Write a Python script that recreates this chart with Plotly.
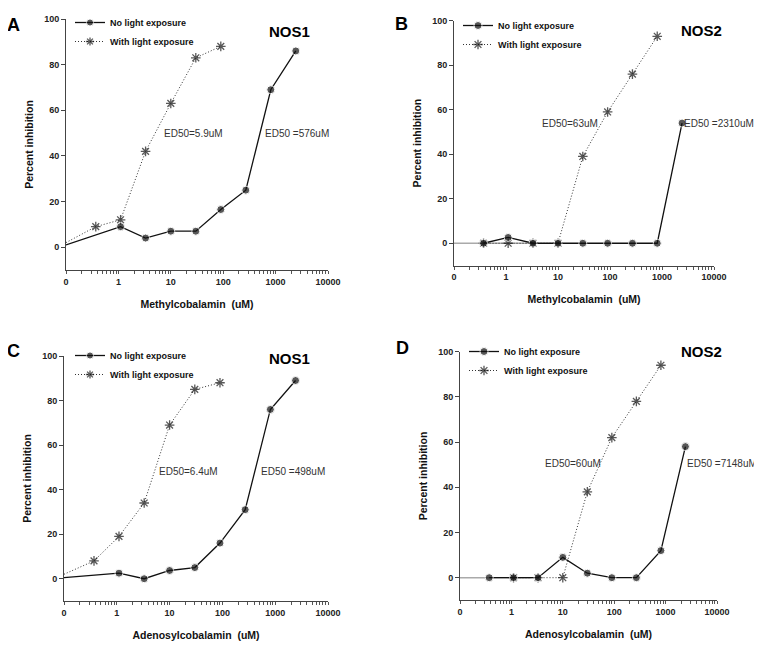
import math
import plotly.graph_objects as go

# ---------------- data ----------------
zero_pos = 0.1  # axis position used for the "0" concentration
conc = [0.37, 1.1, 3.3, 10, 30, 90, 270, 810, 2430]

# Panel A: Methylcobalamin, NOS1
a_dark_x = [zero_pos, 1.1, 3.3, 10, 30, 90, 270, 810, 2430]
a_dark_y = [1, 9, 4, 7, 7, 16.5, 25, 69, 86]
a_light_x = [zero_pos, 0.37, 1.1, 3.3, 10, 30, 90]
a_light_y = [2, 9, 12, 42, 63, 83, 88]

# Panel B: Methylcobalamin, NOS2
b_dark_x = conc
b_dark_y = [0, 2.6, 0, 0, 0, 0, 0, 0, 54]
b_light_x = [0.37, 1.1, 3.3, 10, 30, 90, 270, 810]
b_light_y = [0, 0, 0, 0, 39, 59, 76, 93]

# Panel C: Adenosylcobalamin, NOS1
c_dark_x = [zero_pos, 1.1, 3.3, 10, 30, 90, 270, 810, 2430]
c_dark_y = [0.5, 2.5, 0, 3.7, 5, 16, 31, 76, 89]
c_light_x = [zero_pos, 0.37, 1.1, 3.3, 10, 30, 90]
c_light_y = [2, 8, 19, 34, 69, 85, 88]

# Panel D: Adenosylcobalamin, NOS2
d_dark_x = conc
d_dark_y = [0, 0, 0, 9, 2, 0, 0, 12, 58]
d_light_x = [1.1, 3.3, 10, 30, 90, 270, 810]
d_light_y = [0, 0, 0, 38, 62, 78, 94]

x_major_vals = [0.1, 1, 10, 100, 1000, 10000]
x_major_text = ["0", "1", "10", "100", "1000", "10000"]
x_minor_vals = [d * m for d in [0.1, 1, 10, 100, 1000] for m in range(2, 10)]
y_tickvals = [0, 20, 40, 60, 80, 100]

panel_letters = ["A", "B", "C", "D"]
panel_titles = ["NOS1", "NOS2", "NOS1", "NOS2"]
x_titles = ["Methylcobalamin  (uM)", "Methylcobalamin  (uM)",
            "Adenosylcobalamin  (uM)", "Adenosylcobalamin  (uM)"]
ed50_light = ["ED50=5.9uM", "ED50=63uM", "ED50=6.4uM", "ED50=60uM"]
ed50_dark = ["ED50 =576uM", "ED50 =2310uM", "ED50 =498uM", "ED50 =7148uM"]
ed50_light_pos = [(6.8, 50, "left"), (63, 54, "right"), (5.8, 48, "left"), (60, 50.5, "right")]
ed50_dark_pos = [(576, 50, "left"), (2400, 54, "left"), (493, 48, "left"), (2400, 50.5, "left")]
zero_ref_end = [None, 810, None, 270]

series = [
    (a_dark_x, a_dark_y, a_light_x, a_light_y),
    (b_dark_x, b_dark_y, b_light_x, b_light_y),
    (c_dark_x, c_dark_y, c_light_x, c_light_y),
    (d_dark_x, d_dark_y, d_light_x, d_light_y),
]

# ---------------- layout geometry (page pixels -> paper) ----------------
OFF = 8  # page body margin that the figure sits inside
W, H = 762 - OFF, 651 - OFF
px_boxes = [  # (left, right, top, bottom) in page pixels
    (66, 328, 19, 270),
    (454, 714, 20.7, 265.5),
    (64, 328, 356, 601),
    (460, 717, 351.7, 600.3),
]
letter_px = [(5, 13), (393, 12), (5, 339), (394, 336)]
title_px = [(312, 21), (724, 20), (312, 348), (724, 341)]
legend_px = [(70, 8), (458, 11), (70, 341), (464, 337)]

def px_x(p):
    return (p - OFF) / W

def px_y(p):
    return 1 - (p - OFF) / H

x_tickvals = x_major_vals + x_minor_vals
x_ticktext = x_major_text + [""] * len(x_minor_vals)

FONT = "Liberation Sans, Arial, sans-serif"
fig = go.Figure()
layout = dict(
    width=W, height=H, margin=dict(l=0, r=0, t=0, b=0, autoexpand=False),
    paper_bgcolor="white", plot_bgcolor="white",
    font=dict(family=FONT, color="#222"),
    annotations=[], shapes=[],
)

def msizes(xs, size):
    return [0 if x == zero_pos else size for x in xs]

for i, (dx, dy, lx, ly) in enumerate(series):
    n = i + 1
    xa = "x" if n == 1 else f"x{n}"
    ya = "y" if n == 1 else f"y{n}"
    lg = "legend" if n == 1 else f"legend{n}"
    L, R, T, B = px_boxes[i]

    fig.add_trace(go.Scatter(
        x=lx, y=ly, xaxis=xa, yaxis=ya, mode="lines+markers",
        name="With light exposure", legend=lg, legendrank=2,
        line=dict(color="#333", width=1, dash="1px,2px"),
        marker=dict(symbol="asterisk-open", size=msizes(lx, 8),
                    line=dict(color="#111", width=1.3), color="#111"),
        cliponaxis=False,
    ))
    fig.add_trace(go.Scatter(
        x=dx, y=dy, xaxis=xa, yaxis=ya, mode="lines+markers",
        name="No light exposure", legend=lg, legendrank=1,
        line=dict(color="#111", width=1.3),
        marker=dict(symbol="circle", size=msizes(dx, 8), color="#111"),
        cliponaxis=False,
    ))

    xkey = "xaxis" if n == 1 else f"xaxis{n}"
    ykey = "yaxis" if n == 1 else f"yaxis{n}"
    layout[xkey] = dict(
        domain=[px_x(L), px_x(R)], anchor=ya, type="log", range=[-1, 4], automargin=False,
        tickvals=x_tickvals, ticktext=x_ticktext, ticks="outside", ticklen=3,
        tickcolor="#555", showline=True, linecolor="#444", linewidth=1,
        showgrid=False, zeroline=False,
        tickfont=dict(size=9, family=FONT, color="#222", weight="bold"),
        title=dict(text=x_titles[i], standoff=14,
                   font=dict(size=10.5, family=FONT, color="#111", weight="bold")),
    )
    layout[ykey] = dict(
        domain=[px_y(B), px_y(T)], anchor=xa, range=[-10, 100], automargin=False,
        tickvals=y_tickvals, ticks="outside", ticklen=4, tickcolor="#444",
        showline=True, linecolor="#444", linewidth=1, showgrid=False, zeroline=False,
        tickfont=dict(size=9, family=FONT, color="#222", weight="bold"),
        title=dict(text="Percent inhibition", standoff=8,
                   font=dict(size=10.5, family=FONT, color="#111", weight="bold")),
    )
    gx, gy = legend_px[i]
    layout[lg] = dict(
        x=px_x(gx), y=px_y(gy), xanchor="left", yanchor="top",
        bgcolor="rgba(0,0,0,0)", font=dict(size=9, family=FONT, color="#111", weight="bold"),
        tracegroupgap=0, itemwidth=30,
    )

    # panel letter and title
    lx_px, ly_px = letter_px[i]
    layout["annotations"].append(dict(
        text=panel_letters[i], xref="paper", yref="paper",
        x=px_x(lx_px), y=px_y(ly_px), xanchor="left", yanchor="top",
        showarrow=False, font=dict(size=18, family=FONT, color="#000", weight="bold")))
    tx_px, ty_px = title_px[i]
    layout["annotations"].append(dict(
        text=panel_titles[i], xref="paper", yref="paper",
        x=px_x(tx_px), y=px_y(ty_px), xanchor="right", yanchor="top",
        showarrow=False, font=dict(size=15, family=FONT, color="#000", weight="bold")))
    # ED50 labels
    for txt, (ex, ey, anc) in ((ed50_light[i], ed50_light_pos[i]), (ed50_dark[i], ed50_dark_pos[i])):
        layout["annotations"].append(dict(
            text=txt, xref=xa, yref=ya, x=math.log10(ex), y=ey, xanchor=anc,
            yanchor="middle", showarrow=False,
            font=dict(size=10, family=FONT, color="#333")))
    if zero_ref_end[i] is not None:
        layout["shapes"].append(dict(
            type="line", xref=xa, yref=ya, x0=math.log10(zero_pos), x1=math.log10(zero_ref_end[i]),
            y0=0, y1=0, line=dict(color="#aaa", width=1.5), layer="below"))

fig.update_layout(**layout)
fig.write_html("out.html")
